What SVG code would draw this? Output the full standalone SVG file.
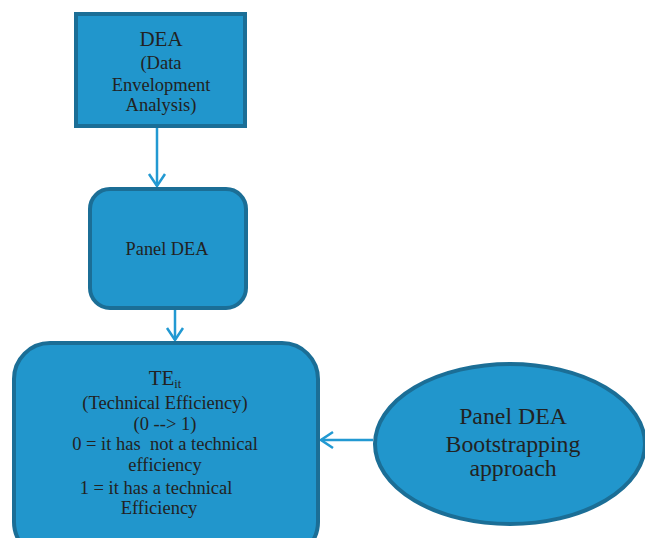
<svg xmlns="http://www.w3.org/2000/svg" width="645" height="538" viewBox="0 0 645 538">
<defs>
<style>
.node{fill:#2196CC;stroke:#1B6E96;stroke-width:4}
.t{font-family:"Liberation Serif","Times New Roman",serif;fill:#222;text-anchor:middle}
.c{stroke:#2299D2;stroke-width:2.5;fill:none}
</style>
<marker id="ah" viewBox="0 0 20 20" refX="18" refY="10" markerWidth="20" markerHeight="20" markerUnits="userSpaceOnUse" orient="auto">
<path d="M6,2 L18,10 L6,18" fill="none" stroke="#2299D2" stroke-width="2.5"/>
</marker>
</defs>
<rect width="645" height="538" fill="#fff"/>
<g id="connectors">
<line class="c" x1="157" y1="128" x2="157" y2="186" marker-end="url(#ah)"/>
<line class="c" x1="175" y1="310" x2="175" y2="340" marker-end="url(#ah)"/>
<line class="c" x1="373" y1="440" x2="321" y2="440" marker-end="url(#ah)"/>
</g>
<g id="dea">
<rect class="node" x="76" y="14" width="169" height="112"/>
<text class="t" x="161" y="46" font-size="21">DEA</text>
<text class="t" x="161" y="69" font-size="18.5">(Data</text>
<text class="t" x="161" y="91" font-size="18.5">Envelopment</text>
<text class="t" x="161" y="111" font-size="18.5">Analysis)</text>
</g>
<g id="panel-dea">
<rect class="node" x="90" y="189" width="156" height="119" rx="20"/>
<text class="t" x="167" y="255" font-size="18.3">Panel DEA</text>
</g>
<g id="te">
<rect class="node" x="14" y="343" width="304" height="215" rx="36"/>
<text class="t" x="165" y="385" font-size="21">TE<tspan font-size="12.5" dy="3">it</tspan></text>
<text class="t" x="165" y="409" font-size="18.5">(Technical Efficiency)</text>
<text class="t" x="165" y="430" font-size="18.5">(0 --&gt; 1)</text>
<text class="t" x="165" y="450" font-size="18.5" xml:space="preserve">0 = it has  not a technical</text>
<text class="t" x="165" y="471" font-size="18.5">efficiency</text>
<text class="t" x="156" y="494" font-size="18.5">1 = it has a technical</text>
<text class="t" x="159" y="514" font-size="18.5">Efficiency</text>
</g>
<g id="bootstrap">
<ellipse class="node" cx="510" cy="444" rx="135" ry="80"/>
<text class="t" x="513" y="424" font-size="23.8">Panel DEA</text>
<text class="t" x="513" y="452" font-size="23.8">Bootstrapping</text>
<text class="t" x="513" y="476" font-size="23.8">approach</text>
</g>
</svg>
